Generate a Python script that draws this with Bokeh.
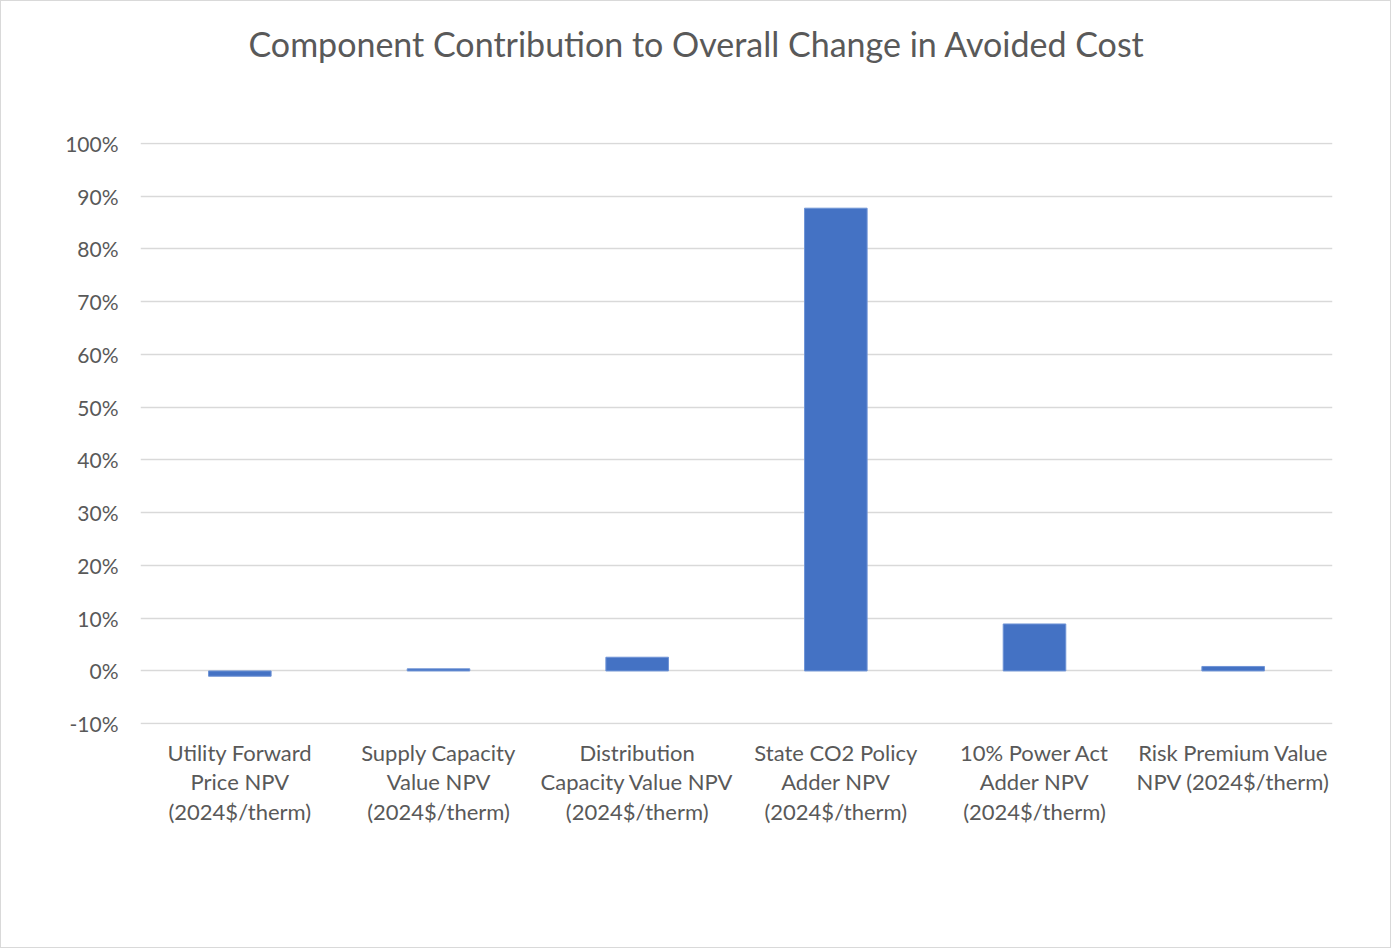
from bokeh.plotting import figure
from bokeh.models import Range1d, FactorRange, FixedTicker, NumeralTickFormatter, ColumnDataSource, Title
from bokeh.embed import file_html
from bokeh.resources import INLINE

title_text = "Component Contribution to Overall Change in Avoided Cost"
categories = [
    "Utility Forward\nPrice NPV\n(2024$/therm)",
    "Supply Capacity\nValue NPV\n(2024$/therm)",
    "Distribution\nCapacity Value NPV\n(2024$/therm)",
    "State CO2 Policy\nAdder NPV\n(2024$/therm)",
    "10% Power Act\nAdder NPV\n(2024$/therm)",
    "Risk Premium Value\nNPV (2024$/therm)",
]
contribution = [-0.010, 0.004, 0.026, 0.877, 0.089, 0.0085]
y_ticks = [-0.1, 0.0, 0.1, 0.2, 0.3, 0.4, 0.5, 0.6, 0.7, 0.8, 0.9, 1.0]

FONT = "Lato"
GRAY = "#595959"

p = figure(width=1391, height=948, x_range=FactorRange(*categories, range_padding=0),
           y_range=Range1d(-0.1015, 1.0015), output_backend="svg", toolbar_location=None,
           min_border_left=139, min_border_right=60, min_border_top=141, min_border_bottom=225)
p.styles = {"border": "1px solid #d9d9d9"}

p.outline_line_color = None
p.background_fill_color = "white"
p.border_fill_color = "white"
p.title.text = ""

spacer = Title(text=" ", text_font_size="1px", standoff=76)
p.add_layout(spacer, "above")
main_title = Title(text=title_text, align="left", offset=108, text_font=FONT,
                   text_font_size="34px", text_font_style="normal", text_color=GRAY,
                   standoff=0)
p.add_layout(main_title, "above")

src = ColumnDataSource(dict(x=categories, top=contribution))
p.vbar(x="x", top="top", bottom=0, width=0.315, source=src,
       fill_color="#4472C4", line_color="#6f94d6", line_width=1)

p.xaxis.axis_line_color = None
p.xaxis.major_tick_line_color = None
p.xaxis.minor_tick_line_color = None
p.xaxis.major_label_standoff = 8
p.xaxis.major_label_text_font = FONT
p.xaxis.major_label_text_font_size = "22px"
p.xaxis.major_label_text_color = GRAY
p.xaxis.major_label_text_line_height = 1.11

p.xgrid.grid_line_color = None
p.ygrid.grid_line_color = "#d9d9d9"
p.ygrid.grid_line_width = 1.5
p.yaxis.ticker = FixedTicker(ticks=y_ticks)
p.ygrid.ticker = FixedTicker(ticks=y_ticks)
p.yaxis.formatter = NumeralTickFormatter(format="0%")
p.yaxis.axis_line_color = None
p.yaxis.major_tick_line_color = None
p.yaxis.minor_tick_line_color = None
p.yaxis.major_label_standoff = 16
p.yaxis.major_label_text_font = FONT
p.yaxis.major_label_text_font_size = "21px"
p.yaxis.major_label_text_color = GRAY

open("out.html", "w").write(file_html(p, INLINE))
